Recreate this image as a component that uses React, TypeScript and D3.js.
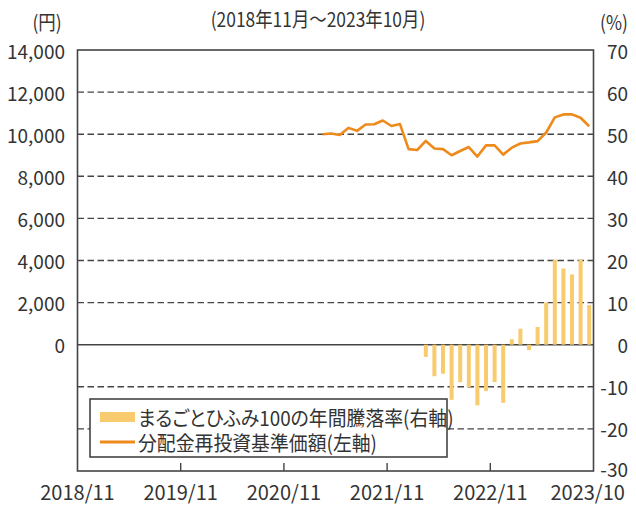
import React from "react";
import * as d3 from "d3";

// Categories: monthly, 2018/11 .. 2023/10
const startMonth = new Date(2018, 10, 1);
const endMonth = new Date(2023, 10, 1);
const months: string[] = d3.timeMonth
  .range(startMonth, endMonth)
  .map((d) => d3.timeFormat("%Y/%m")(d));

const xTickLabels = ["2018/11", "2019/11", "2020/11", "2021/11", "2022/11", "2023/10"];
const xInnerTicks = ["2019/11", "2020/11", "2021/11", "2022/11"];

// 分配金再投資基準価額 (left axis, 円), from 2021/03
const navStart = "2021/03";
const navValues = [
  10000, 10030, 9960, 10300, 10160, 10460, 10470, 10650, 10390, 10480,
  9290, 9250, 9680, 9320, 9290, 9000, 9200, 9390, 8940, 9470,
  9470, 9030, 9360, 9560, 9610, 9670, 10080, 10800, 10940, 10940,
  10780, 10380,
];

// 年間騰落率 (right axis, %), from 2022/03
const retStart = "2022/03";
const retValues = [
  -2.9, -7.5, -6.9, -13.1, -8.9, -10.1, -14.4, -11.0, -8.9, -13.8,
  1.3, 3.8, -1.3, 4.2, 10.0, 20.2, 18.1, 16.7, 20.2, 9.4,
];

const leftTicks = [0, 2000, 4000, 6000, 8000, 10000, 12000, 14000];
const rightTicks = [-30, -20, -10, 0, 10, 20, 30, 40, 50, 60, 70];
const gridTicks = [-20, -10, 10, 20, 30, 40, 50, 60];

const W = 636;
const H = 506;
const left = 77.5;
const right = 593.5;
const top = 50;
const bottom = 471;

const FONT = '"Noto Sans CJK JP", "Noto Sans", sans-serif';
const TXT = "#333";
const AX = "#444";
const BAR = "#F8CB6E";
const LINE = "#EE8A1C";

export default function App() {
  const x = d3.scaleBand<string>().domain(months).range([left, right]).padding(0);
  const yR = d3.scaleLinear().domain([-30, 70]).range([bottom, top]);
  const yL = d3.scaleLinear().domain([-6000, 14000]).range([bottom, top]);
  const bw = x.bandwidth();
  const cx = (m: string) => (x(m) as number) + bw / 2;

  const navIdx = months.indexOf(navStart);
  const navData = navValues.map((v, i) => ({ m: months[navIdx + i], v }));
  const retIdx = months.indexOf(retStart);
  const retData = retValues.map((v, i) => ({ m: months[retIdx + i], v }));

  const line = d3
    .line<{ m: string; v: number }>()
    .x((d) => cx(d.m))
    .y((d) => yL(d.v))
    .curve(d3.curveLinear);

  const barW = 4;

  const xLabelPos = (lab: string) => {
    if (lab === "2018/11") return left;
    if (lab === "2023/10") return cx("2023/10") - 1.5;
    return x(lab) as number;
  };

  return (
    <svg
      width={W}
      height={H}
      style={{ position: "absolute", left: 0, top: 0, background: "#fff" }}
      fontFamily={FONT}
    >
      <rect x={0} y={0} width={W} height={H} fill="#fff" />
      {/* title */}
      <text
        transform={`translate(318,18) scale(0.87,1)`}
        textAnchor="middle"
        dominantBaseline="central"
        fontSize={20}
        fill={TXT}
      >
        (2018年11月～2023年10月)
      </text>
      <text
        transform={`translate(47,21) scale(0.87,1)`}
        textAnchor="middle"
        dominantBaseline="central"
        fontSize={20}
        fill={TXT}
      >
        (円)
      </text>
      <text
        transform={`translate(614,21) scale(0.87,1)`}
        textAnchor="middle"
        dominantBaseline="central"
        fontSize={20}
        fill={TXT}
      >
        (%)
      </text>

      {/* grid lines */}
      {gridTicks.map((t) => (
        <line
          key={"g" + t}
          x1={left}
          x2={right}
          y1={yR(t)}
          y2={yR(t)}
          stroke={AX}
          strokeWidth={1.4}
          strokeDasharray="6.5,3.5"
        />
      ))}
      {/* zero line */}
      <line x1={left} x2={right} y1={yR(0)} y2={yR(0)} stroke={AX} strokeWidth={1.4} />

      {/* bars */}
      {retData.map((d) => (
        <rect
          key={"b" + d.m}
          x={cx(d.m) - barW / 2}
          y={Math.min(yR(d.v), yR(0))}
          width={barW}
          height={Math.abs(yR(d.v) - yR(0))}
          fill={BAR}
        />
      ))}

      {/* line */}
      <path d={line(navData) || ""} fill="none" stroke={LINE} strokeWidth={2.6} strokeLinejoin="round" />

      {/* frame */}
      <rect x={left} y={top} width={right - left} height={bottom - top} fill="none" stroke={AX} strokeWidth={1.6} />
      {xInnerTicks.map((m) => (
        <line key={"t" + m} x1={x(m) as number} x2={x(m) as number} y1={bottom} y2={bottom - 8} stroke={AX} strokeWidth={1.4} />
      ))}

      {/* legend */}
      <rect x={90} y={399} width={357} height={58} fill="#fff" stroke={AX} strokeWidth={1.6} />
      <rect x={100} y={412} width={35} height={10} fill={BAR} />
      <line x1={100} x2={135} y1={442} y2={442} stroke={LINE} strokeWidth={3} />
      <text
        transform={`translate(138,417) scale(0.92,1)`}
        dominantBaseline="central"
        fontSize={20.5}
        fill={TXT}
        style={{ fontFeatureSettings: '"palt"' }}
      >
        まるごとひふみ100の年間騰落率(右軸)
      </text>
      <text
        transform={`translate(138,442) scale(0.92,1)`}
        dominantBaseline="central"
        fontSize={20.5}
        fill={TXT}
        style={{ fontFeatureSettings: '"palt"' }}
      >
        分配金再投資基準価額(左軸)
      </text>

      {/* left axis labels */}
      {leftTicks.map((t) => (
        <text
          key={"l" + t}
          x={65}
          y={yL(t)}
          textAnchor="end"
          dominantBaseline="central"
          fontSize={19}
          fill={TXT}
        >
          {d3.format(",")(t)}
        </text>
      ))}
      {/* right axis labels */}
      {rightTicks.map((t) => (
        <text
          key={"r" + t}
          x={628}
          y={t === -30 ? yR(t) - 3 : yR(t)}
          textAnchor="end"
          dominantBaseline="central"
          fontSize={19}
          fill={TXT}
        >
          {t}
        </text>
      ))}
      {/* x labels */}
      {xTickLabels.map((lab) => (
        <text
          key={"x" + lab}
          x={xLabelPos(lab)}
          y={491.5}
          textAnchor="middle"
          dominantBaseline="central"
          fontSize={20}
          fill={TXT}
        >
          {lab}
        </text>
      ))}
    </svg>
  );
}
